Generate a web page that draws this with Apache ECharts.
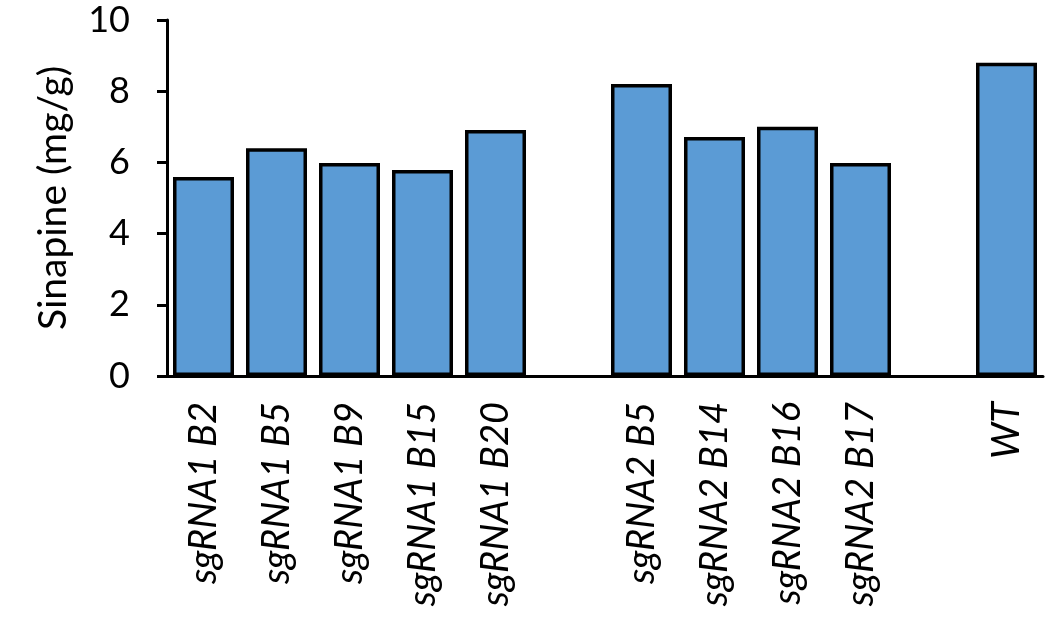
<!DOCTYPE html>
<html><head><meta charset="utf-8">
<script src="https://cdn.jsdelivr.net/npm/echarts@6/dist/echarts.min.js"></script>
<style>html,body{margin:0;padding:0;background:#fff}#c{width:1063px;height:643px}</style>
</head><body><div id="c"></div>
<script>
const categories = ['sgRNA1 B2','sgRNA1 B5','sgRNA1 B9','sgRNA1 B15','sgRNA1 B20','','sgRNA2 B5','sgRNA2 B14','sgRNA2 B16','sgRNA2 B17','','WT'];
const values = [5.59, 6.40, 5.98, 5.79, 6.91, '-', 8.20, 6.71, 7.00, 5.98, '-', 8.80];
const yTicks = {min: 0, max: 10, interval: 2};
const yName = 'Sinapine (mg/g)';
const FONT = 'Lato';
const chart = echarts.init(document.getElementById('c'));
chart.setOption({
  animation: false,
  grid: {left: 167, right: 20, top: 20, bottom: 267, containLabel: false},
  xAxis: {
    type: 'category', data: categories,
    axisLine: {lineStyle: {color: '#000', width: 3}},
    axisTick: {show: false},
    axisLabel: {rotate: 90, interval: 0, margin: 26, color: '#000', fontFamily: FONT, fontStyle: 'italic', fontSize: 38}
  },
  yAxis: {
    type: 'value', min: yTicks.min, max: yTicks.max, interval: yTicks.interval,
    name: yName, nameLocation: 'middle', nameGap: 94, nameRotate: 90,
    nameTextStyle: {color: '#000', fontFamily: FONT, fontSize: 39},
    axisLine: {show: true, lineStyle: {color: '#000', width: 3}},
    axisTick: {show: true, length: 10, lineStyle: {color: '#000', width: 3}},
    axisLabel: {margin: 37, color: '#000', fontFamily: FONT, fontSize: 36},
    splitLine: {show: false}
  },
  series: [{
    type: 'bar', data: values, barWidth: 61,
    itemStyle: {color: '#5B9BD5', borderColor: '#000', borderWidth: 3.5}
  }]
});
</script></body></html>
